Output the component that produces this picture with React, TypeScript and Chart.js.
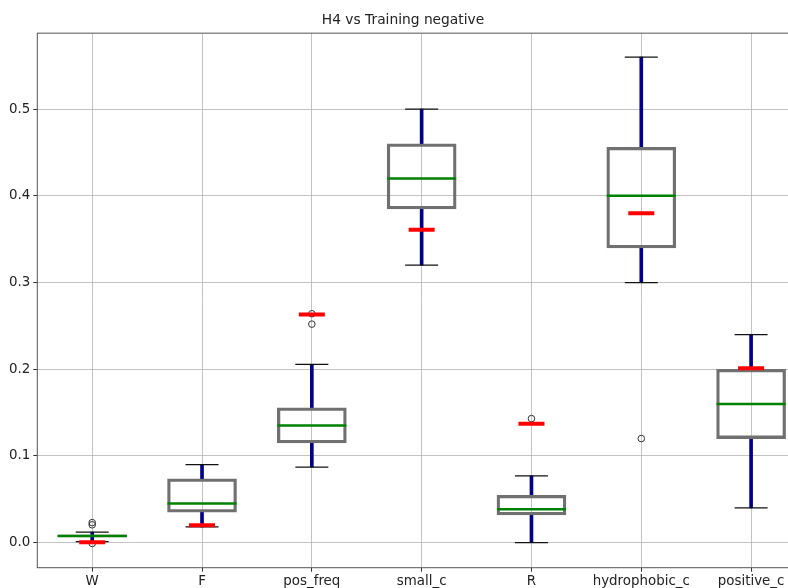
import React, { useEffect, useRef } from "react";
import { Chart, registerables } from "chart.js";

Chart.register(...registerables);

const categories = ["W", "F", "pos_freq", "small_c", "R", "hydrophobic_c", "positive_c"];
const whiskerLow = [0.001, 0.018, 0.087, 0.32, 0.0, 0.3, 0.04];
const q1 = [0.0065, 0.035, 0.115, 0.385, 0.032, 0.34, 0.12];
const median = [0.0077, 0.045, 0.135, 0.42, 0.0385, 0.4, 0.16];
const q3 = [0.009, 0.0735, 0.1555, 0.46, 0.0546, 0.456, 0.2];
const whiskerHigh = [0.012, 0.09, 0.2055, 0.5, 0.077, 0.56, 0.24];
const means = [0.0005, 0.02, 0.263, 0.361, 0.137, 0.38, 0.201];
const outlierCats = ["W", "W", "W", "pos_freq", "pos_freq", "R", "hydrophobic_c"];
const outlierVals = [0.023, 0.0205, -0.001, 0.252, 0.264, 0.143, 0.12];
const yTicks = [0, 0.1, 0.2, 0.3, 0.4, 0.5];

const spinePlugin = {
  id: "spine",
  afterDraw(chart: any) {
    const { ctx, chartArea } = chart;
    ctx.save();
    ctx.strokeStyle = "#555";
    ctx.lineWidth = 1;
    ctx.strokeRect(chartArea.left, chartArea.top, chartArea.right - chartArea.left, chartArea.bottom - chartArea.top);
    ctx.restore();
  },
};

export default function App() {
  const ref = useRef<HTMLCanvasElement | null>(null);
  useEffect(() => {
    if (!ref.current) return;
    Chart.defaults.font.family = "'DejaVu Sans', sans-serif";
    const chart = new Chart(ref.current, {
      type: "bar",
      data: {
        labels: categories,
        datasets: [
          {
            type: "line",
            label: "means",
            data: means,
            showLine: false,
            pointStyle: "line",
            pointRadius: 13,
            pointBorderColor: "#ff0000",
            pointBorderWidth: 4,
            order: 0,
          } as any,
          {
            type: "line",
            label: "outliers",
            data: outlierCats.map((c, i) => ({ x: c, y: outlierVals[i] })),
            showLine: false,
            pointStyle: "circle",
            pointRadius: 3.3,
            pointBorderColor: "#333",
            pointBackgroundColor: "rgba(0,0,0,0)",
            pointBorderWidth: 1,
            order: 1,
          } as any,
          {
            type: "line",
            label: "median",
            data: median,
            showLine: false,
            pointStyle: "line",
            pointRadius: 34.5,
            pointBorderColor: "#008000",
            pointBorderWidth: 2.5,
            order: 2,
          } as any,
          {
            type: "line",
            label: "capHigh",
            data: whiskerHigh,
            showLine: false,
            pointStyle: "line",
            pointRadius: 16.5,
            pointBorderColor: "#111",
            pointBorderWidth: 1.3,
            order: 3,
          } as any,
          {
            type: "line",
            label: "capLow",
            data: whiskerLow,
            showLine: false,
            pointStyle: "line",
            pointRadius: 16.5,
            pointBorderColor: "#111",
            pointBorderWidth: 1.3,
            order: 3,
          } as any,
          {
            type: "bar",
            label: "box",
            data: categories.map((_, i) => [q1[i], q3[i]]),
            backgroundColor: "rgba(0,0,0,0)",
            borderColor: "#707070",
            borderWidth: 2.6,
            borderSkipped: false,
            barThickness: 69,
            grouped: false,
            order: 4,
          } as any,
          {
            type: "bar",
            label: "whiskerHigh",
            data: categories.map((_, i) => [q3[i], whiskerHigh[i]]),
            backgroundColor: "#00008b",
            borderWidth: 0,
            barThickness: 3,
            grouped: false,
            order: 5,
          } as any,
          {
            type: "bar",
            label: "whiskerLow",
            data: categories.map((_, i) => [whiskerLow[i], q1[i]]),
            backgroundColor: "#00008b",
            borderWidth: 0,
            barThickness: 3,
            grouped: false,
            order: 5,
          } as any,
        ],
      },
      options: {
        responsive: false,
        animation: false,
        events: [],
        layout: { autoPadding: false, padding: { left: 0, right: 37, top: 0, bottom: 0 } },
        plugins: {
          legend: { display: false },
          tooltip: { enabled: false },
          title: {
            display: true,
            text: "H4 vs Training negative",
            color: "#222",
            font: { size: 13.8, weight: "normal" as any },
            padding: { top: 12, bottom: 4.6 },
          },
        },
        scales: {
          x: {
            type: "category",
            offset: true,
            grid: {
              offset: false,
              color: "rgba(176,176,176,0.75)",
              lineWidth: 1,
              tickLength: 4,
              tickColor: "#333",
            },
            border: { display: false },
            ticks: { color: "#222", font: { size: 13.4 }, padding: 2, maxRotation: 0, autoSkip: false },
            afterFit: (s: any) => {
              s.height = 20.3;
            },
          },
          y: {
            type: "linear",
            min: -0.029,
            max: 0.5877,
            afterBuildTicks: (s: any) => {
              s.ticks = yTicks.map((v) => ({ value: v }));
            },
            grid: {
              color: "rgba(176,176,176,0.75)",
              lineWidth: 1,
              tickLength: 4,
              tickColor: "#333",
            },
            border: { display: false },
            ticks: {
              color: "#222",
              font: { size: 13.4 },
              padding: 3,
              callback: (v: any) => Number(v).toFixed(1),
            },
            afterFit: (s: any) => {
              s.width = 37.3;
            },
          },
        },
      },
      plugins: [spinePlugin],
    });
    return () => chart.destroy();
  }, []);
  return (
    <div style={{ position: "fixed", left: 0, top: 0, width: "100vw", height: "100vh", overflow: "hidden", background: "#fff" }}>
      <canvas ref={ref} width={843} height={588} style={{ display: "block", width: 843, height: 588 }} />
    </div>
  );
}
